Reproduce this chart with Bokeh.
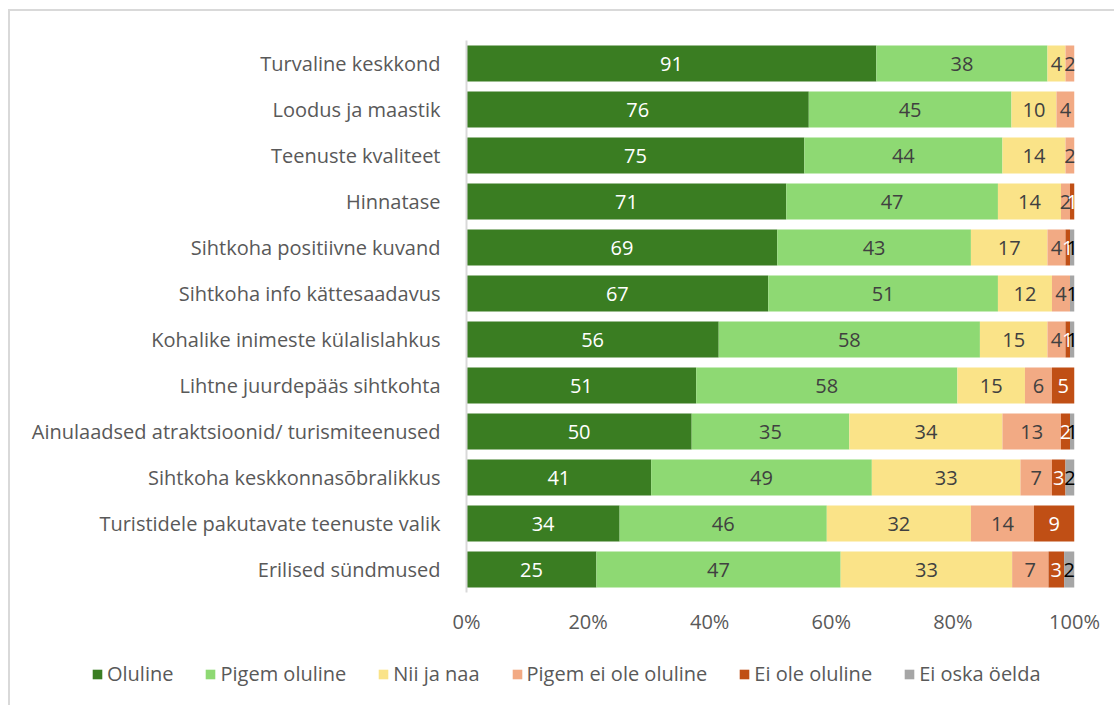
from bokeh.plotting import figure
from bokeh.layouts import column
from bokeh.models import ColumnDataSource, FactorRange, Legend, LegendItem, NumeralTickFormatter, FixedTicker
from bokeh.core.properties import value
from bokeh.embed import file_html
from bokeh.resources import INLINE

categories = [
    "Turvaline keskkond",
    "Loodus ja maastik",
    "Teenuste kvaliteet",
    "Hinnatase",
    "Sihtkoha positiivne kuvand",
    "Sihtkoha info kättesaadavus",
    "Kohalike inimeste külalislahkus",
    "Lihtne juurdepääs sihtkohta",
    "Ainulaadsed atraktsioonid/ turismiteenused",
    "Sihtkoha keskkonnasõbralikkus",
    "Turistidele pakutavate teenuste valik",
    "Erilised sündmused",
]
series_names = ["Oluline", "Pigem oluline", "Nii ja naa", "Pigem ei ole oluline", "Ei ole oluline", "Ei oska öelda"]
oluline = [91, 76, 75, 71, 69, 67, 56, 51, 50, 41, 34, 25]
pigem_oluline = [38, 45, 44, 47, 43, 51, 58, 58, 35, 49, 46, 47]
nii_ja_naa = [4, 10, 14, 14, 17, 12, 15, 15, 34, 33, 32, 33]
pigem_ei_ole = [2, 4, 2, 2, 4, 4, 4, 6, 13, 7, 14, 7]
ei_ole = [0, 0, 0, 1, 1, 0, 1, 5, 2, 3, 9, 3]
ei_oska = [0, 0, 0, 0, 1, 1, 1, 0, 1, 2, 0, 2]
x_ticks = [0, 0.2, 0.4, 0.6, 0.8, 1.0]

series = [oluline, pigem_oluline, nii_ja_naa, pigem_ei_ole, ei_ole, ei_oska]
colors = ["#3a7d22", "#8ed973", "#fae388", "#f2aa84", "#c04f15", "#a6a6a6"]
label_colors = ["#ffffff", "#404040", "#404040", "#404040", "#ffffff", "#000000"]
FONT = "'Open Sans', sans-serif"
TXT = "#595959"
BORDER = "2px solid #d9d9d9"

totals = [sum(s[i] for s in series) for i in range(len(categories))]
keys = ["s%d" % k for k in range(len(series))]
data = {"cat": categories}
for k, s in zip(keys, series):
    data[k] = [v / t for v, t in zip(s, totals)]
src = ColumnDataSource(data)

p = figure(width=1106, height=634, output_backend="svg", toolbar_location=None,
           x_range=(0, 1), y_range=FactorRange(*reversed(categories)),
           min_border_left=456, min_border_right=42, min_border_top=29, min_border_bottom=53)
p.outline_line_color = None
p.grid.visible = False
p.frame_align = False
p.styles = {"border-top": BORDER, "border-left": BORDER}

renderers = p.hbar_stack(keys, y="cat", height=0.78, fill_color=colors, line_color=None, source=src)

# data labels
for idx, s in enumerate(series):
    xs, ys, ts = [], [], []
    for i, cat in enumerate(categories):
        before = sum(series[j][i] for j in range(idx)) / totals[i]
        v = s[i]
        if v > 0:
            xs.append(before + v / totals[i] / 2)
            ys.append(cat)
            ts.append(str(v))
    lsrc = ColumnDataSource(dict(x=xs, y=ys, t=ts))
    p.text(x="x", y="y", text="t", source=lsrc, text_align="center", text_baseline="middle",
           text_font=value(FONT), text_font_size="20px", text_color=label_colors[idx])

yax = p.yaxis[0]
yax.axis_line_color = "#d9d9d9"
yax.axis_line_width = 2
yax.major_tick_line_color = None
yax.minor_tick_line_color = None
yax.major_label_text_font = FONT
yax.major_label_text_font_size = "20px"
yax.major_label_text_color = TXT
yax.major_label_standoff = 20

xax = p.xaxis[0]
xax.axis_line_color = None
xax.major_tick_line_color = None
xax.minor_tick_line_color = None
xax.ticker = FixedTicker(ticks=x_ticks)
xax.formatter = NumeralTickFormatter(format="0%")
xax.major_label_text_font = FONT
xax.major_label_text_font_size = "20px"
xax.major_label_text_color = TXT
xax.major_label_standoff = 9

# legend strip (zero-size swatch renderers)
pl = figure(width=1106, height=62, output_backend="svg", toolbar_location=None,
            x_range=(0, 1), y_range=(0, 1), min_border=0)
pl.axis.visible = False
pl.grid.visible = False
pl.outline_line_color = None
pl.frame_align = False
pl.styles = {"border-left": BORDER}
dummies = [pl.hbar(y=[0.5], left=[0], right=[0], height=0, fill_color=c, line_color=None) for c in colors]
items = [LegendItem(label=n, renderers=[r]) for n, r in zip(series_names, dummies)]
legend = Legend(items=items, location=(81, 18), orientation="horizontal",
                glyph_width=12, glyph_height=12, label_standoff=4, spacing=31,
                label_text_font=FONT, label_text_font_size="20px", label_text_color=TXT,
                border_line_color=None, background_fill_alpha=0, padding=0, margin=0,
                label_height=20)
pl.add_layout(legend)

layout = column(p, pl, spacing=0)
layout.styles = {"margin-left": "8px", "margin-top": "9px"}

open("out.html", "w").write(file_html(layout, INLINE))
